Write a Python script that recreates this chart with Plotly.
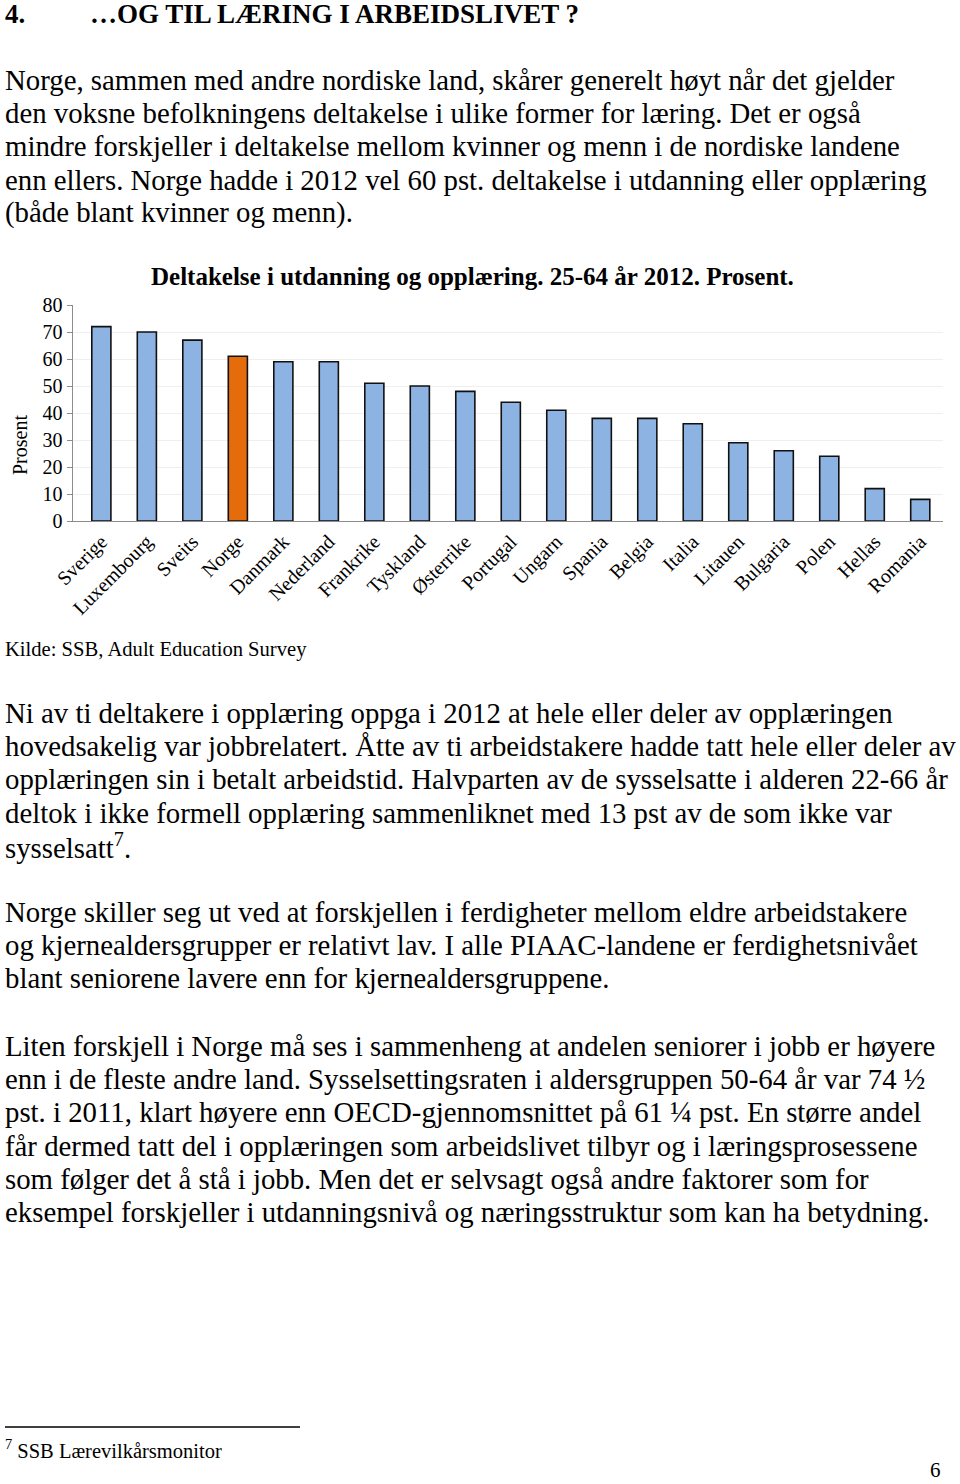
import plotly.graph_objects as go

W, H = 960, 1484

countries = ["Sverige", "Luxembourg", "Sveits", "Norge", "Danmark", "Nederland",
             "Frankrike", "Tyskland", "Østerrike", "Portugal", "Ungarn", "Spania",
             "Belgia", "Italia", "Litauen", "Bulgaria", "Polen", "Hellas", "Romania"]
values = [72, 70, 67, 61, 59, 59, 51, 50, 48, 44, 41, 38, 38, 36, 29, 26, 24, 12, 8]
highlight = "Norge"
y_ticks = [0, 10, 20, 30, 40, 50, 60, 70, 80]

chart_title = "Deltakelse i utdanning og opplæring. 25-64 år 2012. Prosent."
y_title = "Prosent"
source = "Kilde: SSB, Adult Education Survey"

heading_num = "4."
heading = "…OG TIL LÆRING I ARBEIDSLIVET ?"
para1 = ["Norge, sammen med andre nordiske land, skårer generelt høyt når det gjelder",
         "den voksne befolkningens deltakelse i ulike former for læring. Det er også",
         "mindre forskjeller i deltakelse mellom kvinner og menn i de nordiske landene",
         "enn ellers. Norge hadde i 2012 vel 60 pst. deltakelse i utdanning eller opplæring",
         "(både blant kvinner og menn)."]
para2 = ["Ni av ti deltakere i opplæring oppga i 2012 at hele eller deler av opplæringen",
         "hovedsakelig var jobbrelatert. Åtte av ti arbeidstakere hadde tatt hele eller deler av",
         "opplæringen sin i betalt arbeidstid. Halvparten av de sysselsatte i alderen 22-66 år",
         "deltok i ikke formell opplæring sammenliknet med 13 pst av de som ikke var",
         "sysselsatt<sup>7</sup>."]
para3 = ["Norge skiller seg ut ved at forskjellen i ferdigheter mellom eldre arbeidstakere",
         "og kjernealdersgrupper er relativt lav. I alle PIAAC-landene er ferdighetsnivået",
         "blant seniorene lavere enn for kjernealdersgruppene."]
para4 = ["Liten forskjell i Norge må ses i sammenheng at andelen seniorer i jobb er høyere",
         "enn i de fleste andre land. Sysselsettingsraten i aldersgruppen 50-64 år var 74 ½",
         "pst. i 2011, klart høyere enn OECD-gjennomsnittet på 61 ¼ pst. En større andel",
         "får dermed tatt del i opplæringen som arbeidslivet tilbyr og i læringsprosessene",
         "som følger det å stå i jobb. Men det er selvsagt også andre faktorer som for",
         "eksempel forskjeller i utdanningsnivå og næringsstruktur som kan ha betydning."]
footnote = "<sup>7</sup> SSB Lærevilkårsmonitor"
page_no = "6"

SERIF = "Liberation Serif, Times New Roman, serif"

def px(x):
    return x / W

def py(y):
    return 1 - y / H

colors = ["#E46C0A" if c == highlight else "#8DB3E2" for c in countries]

fig = go.Figure()
fig.add_trace(go.Bar(
    x=list(range(len(countries))), y=values,
    marker=dict(color=colors, line=dict(color="#111111", width=1.6)),
    width=0.42, hoverinfo="skip",
))

fig.update_layout(
    template="none",
    width=W, height=H,
    margin=dict(l=0, r=0, t=0, b=0, pad=0, autoexpand=False),
    paper_bgcolor="white", plot_bgcolor="white",
    showlegend=False,
    font=dict(family=SERIF, color="black"),
    xaxis=dict(
        domain=[px(72.7), px(943)],
        range=[-0.63, 18.5],
        tickmode="array", tickvals=list(range(len(countries))), ticktext=countries,
        tickangle=-45, tickfont=dict(family=SERIF, size=20, color="black"),
        showgrid=False, showline=True, linecolor="#8C8C8C", linewidth=1.3,
        ticks="", zeroline=False, fixedrange=True, automargin=False,
    ),
    yaxis=dict(
        domain=[py(521), py(305)],
        range=[0, 80],
        tickmode="array", tickvals=y_ticks,
        tickfont=dict(family=SERIF, size=20, color="black"),
        showgrid=True, gridcolor="#EFEFEF", gridwidth=1,
        showline=True, linecolor="#8C8C8C", linewidth=1.3,
        ticks="outside", ticklen=5, tickcolor="#8C8C8C",
        zeroline=False, fixedrange=True, automargin=False,
    ),
)

ann = []

def text(x, y, s, size, bold=False, xanchor="left", angle=0):
    ann.append(dict(
        x=px(x), y=py(y), xref="paper", yref="paper",
        text=f"<b>{s}</b>" if bold else s, showarrow=False,
        xanchor=xanchor, yanchor="middle", textangle=angle,
        font=dict(family=SERIF, size=size, color="black"),
    ))

text(3, 14, heading_num, 27, bold=True)
text(88, 14, heading, 27, bold=True)

for i, line in enumerate(para1):
    text(3, 80 + i * 33.2, line, 28.8)
for i, line in enumerate(para2):
    text(3, 713 + i * 33.2, line, 28.8)
for i, line in enumerate(para3):
    text(3, 912 + i * 33.2, line, 28.8)
for i, line in enumerate(para4):
    text(3, 1046 + i * 33.2, line, 28.8)

text(472, 276, chart_title, 25, bold=True, xanchor="center")
text(20, 445, y_title, 20, xanchor="center", angle=-90)
text(3, 650, source, 20.6)
text(3, 1449, footnote, 20.5)
text(935, 1470, page_no, 21, xanchor="center")

fig.update_layout(annotations=ann)
fig.add_shape(type="line", xref="paper", yref="paper",
              x0=px(5), x1=px(300), y0=py(1427), y1=py(1427),
              line=dict(color="black", width=1.5))

fig.write_html("out.html",
               config={"displayModeBar": False},
               post_script="document.body.style.margin='0';document.body.style.overflow='hidden';")
